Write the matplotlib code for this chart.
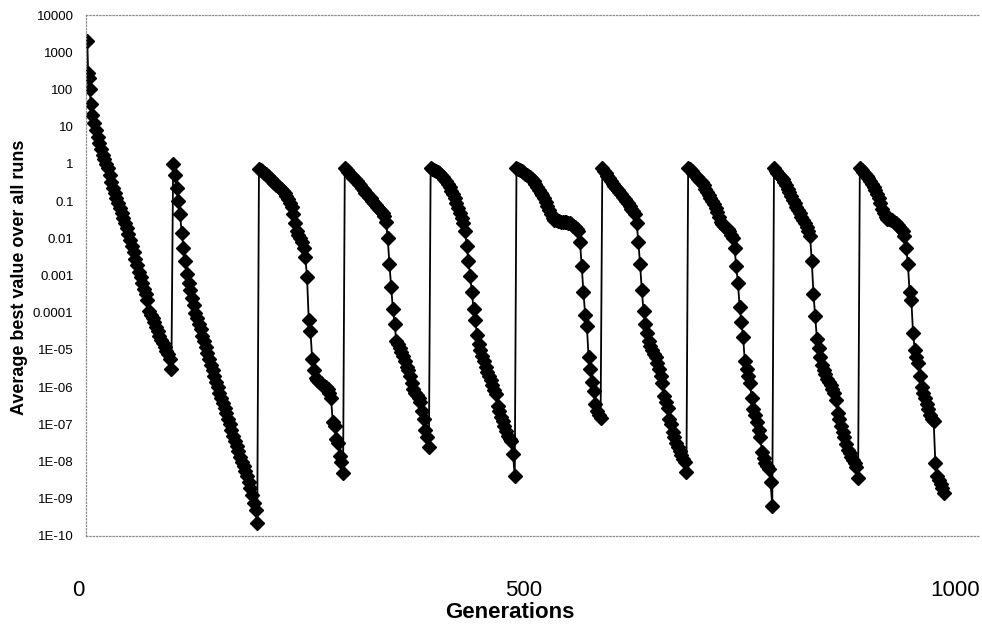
"""
Average best value over all runs vs generations (restarted search, 10 cycles).
Log-scale y, diamond markers joined by a thin black line.
"""

import numpy as np
import matplotlib
matplotlib.use("Agg")
import matplotlib.pyplot as plt

plt.rcParams["font.family"] = ["Liberation Sans", "DejaVu Sans"]

# log10 of the average best value, one list per restart cycle of 100 generations.
# cycle 1 starts with generations 0,1,2,3 then every 2nd generation; others every 2nd.
EARLY_GENS = [0, 1, 2, 3]
CYCLE_LEN = 100
STEP = 2

LOG_C1 = [3.30, 2.45, 2.30, 2.00,
          1.60, 1.30, 1.10, 0.90, 0.72, 0.55, 0.40, 0.25, 0.12, 0.00,
          -0.12, -0.30, -0.48, -0.65, -0.78, -0.92, -1.05, -1.18, -1.32, -1.45,
          -1.58, -1.72, -1.88, -2.05, -2.20, -2.38, -2.55, -2.72, -2.90, -3.05,
          -3.20, -3.35, -3.50, -3.65, -3.95, -4.05, -4.15, -4.25, -4.38, -4.50,
          -4.62, -4.72, -4.82, -4.92, -5.02, -5.12, -5.25, -5.50]
LOG_C2 = [0.00, -0.30, -0.65, -1.00, -1.35, -1.85, -2.25, -2.60, -2.95, -3.20,
          -3.40, -3.60, -3.80, -4.00, -4.15, -4.30, -4.45, -4.62, -4.76, -4.92,
          -5.08, -5.25, -5.40, -5.55, -5.70, -5.85, -6.00, -6.15, -6.28, -6.42,
          -6.55, -6.70, -6.85, -7.00, -7.15, -7.30, -7.45, -7.58, -7.72, -7.88,
          -8.00, -8.12, -8.25, -8.40, -8.55, -8.72, -8.90, -9.10, -9.30, -9.65]
LOG_C3 = [-0.15, -0.17, -0.20, -0.24, -0.28, -0.32, -0.37, -0.42, -0.47, -0.52,
          -0.56, -0.60, -0.64, -0.68, -0.73, -0.78, -0.86, -0.95, -1.05, -1.15,
          -1.35, -1.60, -1.80, -1.92, -2.00, -2.10, -2.25, -2.50, -3.05, -4.20,
          -4.50, -5.25, -5.55, -5.75, -5.82, -5.86, -5.90, -5.93, -5.96, -6.00,
          -6.05, -6.15, -6.30, -6.95, -7.05, -7.40, -7.50, -7.85, -8.00, -8.30]
LOG_C4 = [-0.12, -0.16, -0.22, -0.27, -0.32, -0.37, -0.42, -0.47, -0.53, -0.58,
          -0.64, -0.70, -0.77, -0.82, -0.88, -0.93, -0.99, -1.04, -1.10, -1.16,
          -1.22, -1.28, -1.33, -1.40, -1.55, -2.00, -2.70, -3.30, -3.90, -4.30,
          -4.75, -4.85, -4.95, -5.05, -5.15, -5.30, -5.45, -5.55, -5.70, -5.90,
          -6.05, -6.15, -6.20, -6.30, -6.40, -6.65, -6.85, -7.15, -7.35, -7.60]
LOG_C5 = [-0.12, -0.14, -0.17, -0.19, -0.22, -0.25, -0.29, -0.34, -0.40, -0.47,
          -0.55, -0.63, -0.72, -0.80, -0.92, -1.05, -1.18, -1.32, -1.45, -1.60,
          -1.80, -2.20, -2.60, -3.00, -3.45, -3.90, -4.20, -4.60, -4.85, -5.00,
          -5.15, -5.30, -5.45, -5.58, -5.70, -5.82, -5.95, -6.08, -6.18, -6.50,
          -6.65, -6.80, -6.90, -7.05, -7.18, -7.30, -7.40, -7.45, -7.80, -8.40]
LOG_C6 = [-0.12, -0.14, -0.17, -0.20, -0.23, -0.26, -0.29, -0.32, -0.35, -0.40,
          -0.46, -0.53, -0.61, -0.69, -0.77, -0.85, -0.93, -1.02, -1.12, -1.24,
          -1.36, -1.45, -1.50, -1.52, -1.53, -1.54, -1.55, -1.55, -1.56, -1.57,
          -1.58, -1.60, -1.62, -1.66, -1.70, -1.76, -1.80, -2.10, -2.75, -3.45,
          -4.05, -4.35, -5.20, -5.50, -5.85, -6.10, -6.45, -6.65, -6.75, -6.82]
LOG_C7 = [-0.12, -0.18, -0.25, -0.32, -0.39, -0.46, -0.53, -0.59, -0.65, -0.71,
          -0.76, -0.82, -0.88, -0.94, -1.00, -1.06, -1.13, -1.20, -1.27, -1.35,
          -1.60, -2.10, -2.70, -3.40, -3.95, -4.30, -4.55, -4.75, -4.90, -5.00,
          -5.10, -5.20, -5.35, -5.50, -5.70, -5.90, -6.25, -6.40, -6.55, -6.85,
          -7.00, -7.20, -7.35, -7.50, -7.62, -7.72, -7.82, -7.92, -8.02, -8.28]
LOG_C8 = [-0.12, -0.15, -0.20, -0.25, -0.30, -0.35, -0.40, -0.45, -0.50, -0.58,
          -0.67, -0.76, -0.84, -0.92, -1.00, -1.08, -1.18, -1.30, -1.44, -1.55,
          -1.62, -1.68, -1.72, -1.76, -1.80, -1.90, -2.00, -2.25, -2.75, -3.20,
          -3.85, -4.25, -4.65, -5.30, -5.50, -5.70, -5.90, -6.30, -6.60, -6.75,
          -6.95, -7.15, -7.35, -7.75, -7.90, -8.05, -8.12, -8.20, -8.55, -9.20]
LOG_C9 = [-0.12, -0.18, -0.24, -0.30, -0.36, -0.42, -0.50, -0.58, -0.67, -0.76,
          -0.86, -0.96, -1.05, -1.15, -1.24, -1.33, -1.42, -1.51, -1.60, -1.70,
          -1.80, -1.95, -2.60, -3.50, -4.10, -4.70, -4.95, -5.20, -5.40, -5.55,
          -5.65, -5.78, -5.85, -5.95, -6.05, -6.15, -6.35, -6.70, -6.85, -7.05,
          -7.20, -7.35, -7.52, -7.68, -7.78, -7.88, -7.96, -8.05, -8.15, -8.45]
LOG_C10 = [-0.12, -0.16, -0.21, -0.26, -0.32, -0.38, -0.45, -0.53, -0.61, -0.70,
           -0.80, -0.92, -1.05, -1.20, -1.33, -1.43, -1.47, -1.49, -1.50, -1.51,
           -1.55, -1.60, -1.65, -1.70, -1.75, -1.80, -1.95, -2.25, -2.70, -3.45,
           -3.65, -4.55, -5.00, -5.20, -5.35, -5.70, -6.00, -6.15, -6.30, -6.45,
           -6.60, -6.75, -6.85, -6.90, -8.05, -8.40, -8.50, -8.60, -8.70, -8.85]

CYCLES = [LOG_C1, LOG_C2, LOG_C3, LOG_C4, LOG_C5,
          LOG_C6, LOG_C7, LOG_C8, LOG_C9, LOG_C10]

YTICK_VALUES = [1e4, 1e3, 1e2, 1e1, 1e0, 1e-1, 1e-2, 1e-3, 1e-4,
                1e-5, 1e-6, 1e-7, 1e-8, 1e-9, 1e-10]
YTICK_LABELS = ["10000", "1000", "100", "10", "1", "0.1", "0.01", "0.001",
                "0.0001", "1E-05", "1E-06", "1E-07", "1E-08", "1E-09", "1E-10"]
XTICK_LABELS = ["0", "500", "1000"]

# build generation axis for each cycle
gens, logs = [], []
for i, vals in enumerate(CYCLES):
    start = i * CYCLE_LEN
    if i == 0:
        g = EARLY_GENS + list(range(EARLY_GENS[-1] + 1, CYCLE_LEN, STEP))
    else:
        g = list(range(start, start + CYCLE_LEN, STEP))
    assert len(g) == len(vals), (i, len(g), len(vals))
    gens.extend(g)
    logs.extend(vals)
gens = np.array(gens)
best = 10.0 ** np.array(logs)

W, H = 982, 632
fig = plt.figure(figsize=(W / 100, H / 100), dpi=100)
ax = fig.add_axes([86 / W, 1 - 536 / H, (980 - 86) / W, (536 - 15) / H])

ax.plot(gens, best, color="black", linewidth=1.3, marker="D", markersize=7,
        markerfacecolor="black", markeredgecolor="black")

ax.set_yscale("log")
ax.set_ylim(1e-10, 1e4)
ax.set_xlim(-1.5, 1040)
ax.set_yticks(YTICK_VALUES)
ax.set_yticklabels(YTICK_LABELS)
ax.yaxis.set_minor_locator(matplotlib.ticker.NullLocator())
ax.tick_params(axis="y", length=0, pad=9, labelsize=9.5)
ax.set_xticks([])

for side in ["top", "left", "bottom"]:
    ax.spines[side].set_linestyle(":")
    ax.spines[side].set_color("#8c8c8c")
    ax.spines[side].set_linewidth(0.9)
ax.spines["right"].set_visible(False)

# x labels sit well below the plot area, as in the original sheet
for lab, fx in zip(XTICK_LABELS, [-0.009, 0.489, 0.972]):
    ax.text(fx, -0.104, lab, transform=ax.transAxes, ha="center", va="center",
            fontsize=16)
ax.text(0.474, -0.146, "Generations", transform=ax.transAxes, ha="center",
        va="center", fontsize=16, fontweight="bold")
fig.text(20 / W, 1 - 277 / H, "Average best value over all runs", rotation=90,
         ha="center", va="center", fontsize=13, fontweight="bold")

fig.savefig("out.png", dpi=100)
